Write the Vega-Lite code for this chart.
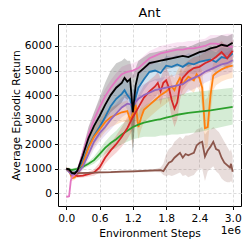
{
"$schema": "https://vega.github.io/schema/vega-lite/v6.json",
"width": 183, "height": 182,
"autosize": {"type": "none"},
"padding": {"left": 58, "top": 24, "right": 9, "bottom": 41},
"background": "white",
"title": {"text": "Ant", "font": "DejaVu Sans", "fontSize": 12.8, "fontWeight": "normal", "color": "black", "offset": 4},
"config": {
  "view": {"stroke": "black", "strokeWidth": 1},
  "axis": {"labelFont": "DejaVu Sans", "titleFont": "DejaVu Sans", "labelFontSize": 10.7, "titleFontSize": 10.7, "titleFontWeight": "normal", "labelColor": "black", "titleColor": "black", "tickColor": "black", "tickSize": 3.5, "domain": false, "grid": true, "gridColor": "#dcdcdc", "gridDash": [3, 2], "labelPadding": 3, "titlePadding": 3, "tickCount": 12, "labelOverlap": false, "labelFlush": false}
},
"datasets": {"d": [
{"s":"s1","x":0.0,"y":1000,"lo":950,"hi":1050},
{"s":"s1","x":0.1,"y":800,"lo":700,"hi":900},
{"s":"s1","x":0.2,"y":900,"lo":750,"hi":1050},
{"s":"s1","x":0.3,"y":1300,"lo":1100,"hi":1500},
{"s":"s1","x":0.4,"y":1900,"lo":1600,"hi":2200},
{"s":"s1","x":0.5,"y":2350,"lo":2000,"hi":2700},
{"s":"s1","x":0.6,"y":2700,"lo":2300,"hi":3100},
{"s":"s1","x":0.7,"y":3100,"lo":2600,"hi":3600},
{"s":"s1","x":0.8,"y":3550,"lo":3000,"hi":4100},
{"s":"s1","x":0.9,"y":3850,"lo":3300,"hi":4400},
{"s":"s1","x":1.0,"y":4050,"lo":3500,"hi":4600},
{"s":"s1","x":1.05,"y":4200,"lo":3600,"hi":4700},
{"s":"s1","x":1.1,"y":4000,"lo":3400,"hi":4600},
{"s":"s1","x":1.15,"y":3850,"lo":3200,"hi":4500},
{"s":"s1","x":1.2,"y":3300,"lo":1600,"hi":4200},
{"s":"s1","x":1.25,"y":3900,"lo":3300,"hi":4500},
{"s":"s1","x":1.3,"y":4300,"lo":3800,"hi":4800},
{"s":"s1","x":1.4,"y":4650,"lo":4200,"hi":5100},
{"s":"s1","x":1.5,"y":4950,"lo":4500,"hi":5400},
{"s":"s1","x":1.6,"y":5000,"lo":4600,"hi":5400},
{"s":"s1","x":1.7,"y":4900,"lo":4500,"hi":5300},
{"s":"s1","x":1.8,"y":5200,"lo":4800,"hi":5600},
{"s":"s1","x":1.9,"y":5150,"lo":4750,"hi":5550},
{"s":"s1","x":2.0,"y":5250,"lo":4850,"hi":5650},
{"s":"s1","x":2.1,"y":5150,"lo":4750,"hi":5550},
{"s":"s1","x":2.2,"y":5300,"lo":4900,"hi":5700},
{"s":"s1","x":2.3,"y":5250,"lo":4850,"hi":5650},
{"s":"s1","x":2.4,"y":5350,"lo":4950,"hi":5750},
{"s":"s1","x":2.5,"y":5400,"lo":5000,"hi":5800},
{"s":"s1","x":2.6,"y":5450,"lo":5050,"hi":5850},
{"s":"s1","x":2.7,"y":5350,"lo":4950,"hi":5750},
{"s":"s1","x":2.8,"y":5550,"lo":5150,"hi":5950},
{"s":"s1","x":2.9,"y":5500,"lo":5100,"hi":5900},
{"s":"s1","x":3.0,"y":5700,"lo":5300,"hi":6100},
{"s":"s2","x":0.0,"y":1000,"lo":950,"hi":1050},
{"s":"s2","x":0.05,"y":950,"lo":850,"hi":1050},
{"s":"s2","x":0.1,"y":620,"lo":500,"hi":750},
{"s":"s2","x":0.15,"y":650,"lo":550,"hi":800},
{"s":"s2","x":0.2,"y":800,"lo":650,"hi":950},
{"s":"s2","x":0.3,"y":1200,"lo":1000,"hi":1450},
{"s":"s2","x":0.4,"y":1850,"lo":1500,"hi":2200},
{"s":"s2","x":0.5,"y":2300,"lo":1900,"hi":2700},
{"s":"s2","x":0.6,"y":2600,"lo":2200,"hi":3000},
{"s":"s2","x":0.7,"y":2900,"lo":2500,"hi":3300},
{"s":"s2","x":0.8,"y":3100,"lo":2700,"hi":3500},
{"s":"s2","x":0.9,"y":3200,"lo":2800,"hi":3600},
{"s":"s2","x":1.0,"y":3300,"lo":2900,"hi":3700},
{"s":"s2","x":1.1,"y":3350,"lo":2900,"hi":3800},
{"s":"s2","x":1.15,"y":3000,"lo":2500,"hi":3500},
{"s":"s2","x":1.2,"y":3250,"lo":1800,"hi":3700},
{"s":"s2","x":1.25,"y":3600,"lo":3100,"hi":4000},
{"s":"s2","x":1.3,"y":2700,"lo":2200,"hi":3200},
{"s":"s2","x":1.35,"y":3100,"lo":2600,"hi":3600},
{"s":"s2","x":1.4,"y":3400,"lo":2900,"hi":3900},
{"s":"s2","x":1.5,"y":3600,"lo":3100,"hi":4100},
{"s":"s2","x":1.6,"y":3800,"lo":3300,"hi":4300},
{"s":"s2","x":1.7,"y":4000,"lo":3500,"hi":4500},
{"s":"s2","x":1.8,"y":4150,"lo":3650,"hi":4650},
{"s":"s2","x":1.9,"y":4350,"lo":3850,"hi":4850},
{"s":"s2","x":1.95,"y":4200,"lo":3700,"hi":4700},
{"s":"s2","x":2.0,"y":4500,"lo":4000,"hi":5000},
{"s":"s2","x":2.05,"y":4700,"lo":4200,"hi":5200},
{"s":"s2","x":2.1,"y":4450,"lo":3950,"hi":4950},
{"s":"s2","x":2.2,"y":4750,"lo":4250,"hi":5250},
{"s":"s2","x":2.3,"y":4600,"lo":4100,"hi":5100},
{"s":"s2","x":2.35,"y":4850,"lo":4350,"hi":5350},
{"s":"s2","x":2.4,"y":4700,"lo":4200,"hi":5200},
{"s":"s2","x":2.45,"y":4300,"lo":3500,"hi":5000},
{"s":"s2","x":2.5,"y":2650,"lo":1800,"hi":3800},
{"s":"s2","x":2.55,"y":2700,"lo":1900,"hi":3900},
{"s":"s2","x":2.6,"y":4000,"lo":3200,"hi":4700},
{"s":"s2","x":2.65,"y":4800,"lo":4200,"hi":5300},
{"s":"s2","x":2.7,"y":4900,"lo":4400,"hi":5400},
{"s":"s2","x":2.8,"y":5050,"lo":4550,"hi":5550},
{"s":"s2","x":2.9,"y":5150,"lo":4650,"hi":5650},
{"s":"s2","x":3.0,"y":5200,"lo":4700,"hi":5700},
{"s":"s3","x":0.0,"y":1000,"lo":970,"hi":1030},
{"s":"s3","x":0.1,"y":950,"lo":900,"hi":1000},
{"s":"s3","x":0.2,"y":1000,"lo":930,"hi":1070},
{"s":"s3","x":0.3,"y":1080,"lo":1000,"hi":1160},
{"s":"s3","x":0.4,"y":1200,"lo":1100,"hi":1300},
{"s":"s3","x":0.5,"y":1350,"lo":1200,"hi":1500},
{"s":"s3","x":0.6,"y":1600,"lo":1400,"hi":1800},
{"s":"s3","x":0.7,"y":1850,"lo":1600,"hi":2100},
{"s":"s3","x":0.8,"y":2050,"lo":1750,"hi":2350},
{"s":"s3","x":0.9,"y":2200,"lo":1850,"hi":2550},
{"s":"s3","x":1.0,"y":2400,"lo":2000,"hi":2800},
{"s":"s3","x":1.1,"y":2550,"lo":2100,"hi":3000},
{"s":"s3","x":1.2,"y":2700,"lo":2200,"hi":3200},
{"s":"s3","x":1.3,"y":2800,"lo":2250,"hi":3400},
{"s":"s3","x":1.4,"y":2880,"lo":2300,"hi":3550},
{"s":"s3","x":1.5,"y":2930,"lo":2300,"hi":3700},
{"s":"s3","x":1.6,"y":2980,"lo":2300,"hi":3800},
{"s":"s3","x":1.7,"y":3020,"lo":2350,"hi":3850},
{"s":"s3","x":1.8,"y":3080,"lo":2350,"hi":3900},
{"s":"s3","x":1.9,"y":3130,"lo":2400,"hi":3950},
{"s":"s3","x":2.0,"y":3200,"lo":2400,"hi":4000},
{"s":"s3","x":2.2,"y":3280,"lo":2450,"hi":4100},
{"s":"s3","x":2.4,"y":3330,"lo":2500,"hi":4150},
{"s":"s3","x":2.6,"y":3380,"lo":2600,"hi":4200},
{"s":"s3","x":2.8,"y":3450,"lo":2700,"hi":4250},
{"s":"s3","x":3.0,"y":3520,"lo":2800,"hi":4300},
{"s":"s4","x":0.0,"y":1000,"lo":950,"hi":1050},
{"s":"s4","x":0.1,"y":800,"lo":700,"hi":900},
{"s":"s4","x":0.2,"y":700,"lo":620,"hi":780},
{"s":"s4","x":0.3,"y":720,"lo":640,"hi":800},
{"s":"s4","x":0.4,"y":780,"lo":680,"hi":880},
{"s":"s4","x":0.5,"y":850,"lo":720,"hi":980},
{"s":"s4","x":0.6,"y":1050,"lo":850,"hi":1250},
{"s":"s4","x":0.7,"y":1450,"lo":1200,"hi":1700},
{"s":"s4","x":0.8,"y":1750,"lo":1450,"hi":2050},
{"s":"s4","x":0.9,"y":2000,"lo":1650,"hi":2350},
{"s":"s4","x":1.0,"y":2300,"lo":1900,"hi":2700},
{"s":"s4","x":1.1,"y":2650,"lo":2200,"hi":3100},
{"s":"s4","x":1.2,"y":3100,"lo":2600,"hi":3600},
{"s":"s4","x":1.3,"y":3500,"lo":3000,"hi":4000},
{"s":"s4","x":1.4,"y":3900,"lo":3400,"hi":4400},
{"s":"s4","x":1.5,"y":4150,"lo":3700,"hi":4600},
{"s":"s4","x":1.6,"y":4350,"lo":3900,"hi":4800},
{"s":"s4","x":1.65,"y":4500,"lo":4050,"hi":4950},
{"s":"s4","x":1.7,"y":4150,"lo":3600,"hi":4700},
{"s":"s4","x":1.75,"y":4500,"lo":4000,"hi":5000},
{"s":"s4","x":1.8,"y":4600,"lo":4100,"hi":5100},
{"s":"s4","x":1.85,"y":4300,"lo":3700,"hi":4900},
{"s":"s4","x":1.9,"y":3800,"lo":3100,"hi":4500},
{"s":"s4","x":1.95,"y":3450,"lo":2700,"hi":4200},
{"s":"s4","x":2.0,"y":3700,"lo":3000,"hi":4400},
{"s":"s4","x":2.05,"y":4400,"lo":3800,"hi":5000},
{"s":"s4","x":2.1,"y":4700,"lo":4200,"hi":5200},
{"s":"s4","x":2.2,"y":4950,"lo":4500,"hi":5400},
{"s":"s4","x":2.3,"y":5100,"lo":4650,"hi":5550},
{"s":"s4","x":2.4,"y":5150,"lo":4700,"hi":5600},
{"s":"s4","x":2.5,"y":5300,"lo":4850,"hi":5750},
{"s":"s4","x":2.6,"y":5400,"lo":4950,"hi":5850},
{"s":"s4","x":2.7,"y":5550,"lo":5100,"hi":6000},
{"s":"s4","x":2.8,"y":5750,"lo":5300,"hi":6200},
{"s":"s4","x":2.9,"y":5500,"lo":5050,"hi":5950},
{"s":"s4","x":3.0,"y":5800,"lo":5350,"hi":6250},
{"s":"s5","x":0.0,"y":1000,"lo":950,"hi":1050},
{"s":"s5","x":0.1,"y":750,"lo":650,"hi":850},
{"s":"s5","x":0.2,"y":800,"lo":700,"hi":900},
{"s":"s5","x":0.3,"y":1100,"lo":950,"hi":1250},
{"s":"s5","x":0.4,"y":1600,"lo":1350,"hi":1850},
{"s":"s5","x":0.5,"y":2100,"lo":1800,"hi":2400},
{"s":"s5","x":0.6,"y":2450,"lo":2100,"hi":2800},
{"s":"s5","x":0.7,"y":2700,"lo":2350,"hi":3050},
{"s":"s5","x":0.8,"y":3000,"lo":2600,"hi":3400},
{"s":"s5","x":0.9,"y":3250,"lo":2850,"hi":3650},
{"s":"s5","x":1.0,"y":3500,"lo":3100,"hi":3900},
{"s":"s5","x":1.1,"y":3650,"lo":3250,"hi":4050},
{"s":"s5","x":1.2,"y":3600,"lo":3100,"hi":4100},
{"s":"s5","x":1.3,"y":3850,"lo":3400,"hi":4300},
{"s":"s5","x":1.4,"y":4000,"lo":3550,"hi":4450},
{"s":"s5","x":1.5,"y":4100,"lo":3650,"hi":4550},
{"s":"s5","x":1.6,"y":4200,"lo":3750,"hi":4650},
{"s":"s5","x":1.7,"y":4250,"lo":3800,"hi":4700},
{"s":"s5","x":1.8,"y":4300,"lo":3850,"hi":4750},
{"s":"s5","x":1.9,"y":4350,"lo":3900,"hi":4800},
{"s":"s5","x":2.0,"y":4400,"lo":3950,"hi":4850},
{"s":"s5","x":2.1,"y":4450,"lo":4000,"hi":4900},
{"s":"s5","x":2.2,"y":4600,"lo":4150,"hi":5050},
{"s":"s5","x":2.3,"y":4700,"lo":4250,"hi":5150},
{"s":"s5","x":2.4,"y":4800,"lo":4350,"hi":5250},
{"s":"s5","x":2.5,"y":4950,"lo":4500,"hi":5400},
{"s":"s5","x":2.6,"y":5050,"lo":4600,"hi":5500},
{"s":"s5","x":2.7,"y":5150,"lo":4700,"hi":5600},
{"s":"s5","x":2.8,"y":5250,"lo":4800,"hi":5700},
{"s":"s5","x":2.9,"y":5300,"lo":4850,"hi":5750},
{"s":"s5","x":3.0,"y":5420,"lo":4950,"hi":5900},
{"s":"s6","x":0.0,"y":1000,"lo":970,"hi":1030},
{"s":"s6","x":0.1,"y":850,"lo":800,"hi":900},
{"s":"s6","x":0.2,"y":820,"lo":780,"hi":860},
{"s":"s6","x":0.4,"y":830,"lo":790,"hi":870},
{"s":"s6","x":0.6,"y":850,"lo":810,"hi":890},
{"s":"s6","x":0.8,"y":860,"lo":820,"hi":900},
{"s":"s6","x":1.0,"y":880,"lo":840,"hi":920},
{"s":"s6","x":1.2,"y":890,"lo":850,"hi":930},
{"s":"s6","x":1.4,"y":910,"lo":860,"hi":960},
{"s":"s6","x":1.6,"y":930,"lo":870,"hi":990},
{"s":"s6","x":1.7,"y":940,"lo":860,"hi":1050},
{"s":"s6","x":1.75,"y":900,"lo":750,"hi":1200},
{"s":"s6","x":1.8,"y":1080,"lo":700,"hi":1600},
{"s":"s6","x":1.85,"y":1250,"lo":750,"hi":1800},
{"s":"s6","x":1.9,"y":1300,"lo":700,"hi":1900},
{"s":"s6","x":1.95,"y":1450,"lo":750,"hi":2100},
{"s":"s6","x":2.0,"y":1550,"lo":800,"hi":2200},
{"s":"s6","x":2.05,"y":1650,"lo":850,"hi":2300},
{"s":"s6","x":2.1,"y":1450,"lo":700,"hi":2200},
{"s":"s6","x":2.15,"y":1600,"lo":750,"hi":2350},
{"s":"s6","x":2.2,"y":1550,"lo":650,"hi":2350},
{"s":"s6","x":2.25,"y":1600,"lo":700,"hi":2400},
{"s":"s6","x":2.3,"y":1650,"lo":750,"hi":2450},
{"s":"s6","x":2.35,"y":1950,"lo":900,"hi":2600},
{"s":"s6","x":2.4,"y":2050,"lo":1000,"hi":2650},
{"s":"s6","x":2.45,"y":2100,"lo":1000,"hi":2700},
{"s":"s6","x":2.5,"y":1500,"lo":500,"hi":2400},
{"s":"s6","x":2.55,"y":1750,"lo":900,"hi":2550},
{"s":"s6","x":2.6,"y":1900,"lo":1000,"hi":2600},
{"s":"s6","x":2.65,"y":2100,"lo":1100,"hi":2700},
{"s":"s6","x":2.7,"y":1800,"lo":900,"hi":2600},
{"s":"s6","x":2.75,"y":1750,"lo":800,"hi":2500},
{"s":"s6","x":2.8,"y":1450,"lo":600,"hi":2300},
{"s":"s6","x":2.85,"y":1250,"lo":500,"hi":2100},
{"s":"s6","x":2.9,"y":1150,"lo":450,"hi":1900},
{"s":"s6","x":2.95,"y":1050,"lo":450,"hi":1700},
{"s":"s6","x":2.97,"y":1200,"lo":500,"hi":1800},
{"s":"s6","x":3.0,"y":880,"lo":400,"hi":1500},
{"s":"s7","x":0.0,"y":-150,"lo":-200,"hi":-100},
{"s":"s7","x":0.05,"y":-120,"lo":-180,"hi":-60},
{"s":"s7","x":0.08,"y":500,"lo":400,"hi":600},
{"s":"s7","x":0.1,"y":650,"lo":550,"hi":750},
{"s":"s7","x":0.15,"y":750,"lo":650,"hi":850},
{"s":"s7","x":0.2,"y":900,"lo":800,"hi":1000},
{"s":"s7","x":0.3,"y":1650,"lo":1400,"hi":1900},
{"s":"s7","x":0.4,"y":2400,"lo":2100,"hi":2700},
{"s":"s7","x":0.5,"y":3000,"lo":2700,"hi":3300},
{"s":"s7","x":0.6,"y":3500,"lo":3200,"hi":3800},
{"s":"s7","x":0.7,"y":3950,"lo":3650,"hi":4250},
{"s":"s7","x":0.8,"y":4300,"lo":4000,"hi":4600},
{"s":"s7","x":0.9,"y":4600,"lo":4300,"hi":4900},
{"s":"s7","x":1.0,"y":4850,"lo":4550,"hi":5150},
{"s":"s7","x":1.1,"y":4950,"lo":4650,"hi":5250},
{"s":"s7","x":1.2,"y":5000,"lo":4700,"hi":5300},
{"s":"s7","x":1.3,"y":5100,"lo":4800,"hi":5400},
{"s":"s7","x":1.4,"y":5300,"lo":5000,"hi":5600},
{"s":"s7","x":1.5,"y":5500,"lo":5200,"hi":5800},
{"s":"s7","x":1.6,"y":5600,"lo":5300,"hi":5900},
{"s":"s7","x":1.7,"y":5700,"lo":5400,"hi":6000},
{"s":"s7","x":1.8,"y":5750,"lo":5450,"hi":6050},
{"s":"s7","x":1.9,"y":5800,"lo":5500,"hi":6100},
{"s":"s7","x":2.0,"y":5850,"lo":5550,"hi":6150},
{"s":"s7","x":2.1,"y":5850,"lo":5550,"hi":6150},
{"s":"s7","x":2.2,"y":5900,"lo":5600,"hi":6200},
{"s":"s7","x":2.3,"y":5900,"lo":5600,"hi":6200},
{"s":"s7","x":2.4,"y":5950,"lo":5650,"hi":6250},
{"s":"s7","x":2.5,"y":6000,"lo":5700,"hi":6300},
{"s":"s7","x":2.6,"y":6100,"lo":5800,"hi":6450},
{"s":"s7","x":2.7,"y":6100,"lo":5800,"hi":6450},
{"s":"s7","x":2.8,"y":6050,"lo":5700,"hi":6450},
{"s":"s7","x":2.9,"y":6000,"lo":5600,"hi":6500},
{"s":"s7","x":3.0,"y":5950,"lo":5500,"hi":6500},
{"s":"s8","x":0.0,"y":1000,"lo":950,"hi":1050},
{"s":"s8","x":0.05,"y":980,"lo":930,"hi":1030},
{"s":"s8","x":0.1,"y":830,"lo":760,"hi":900},
{"s":"s8","x":0.15,"y":800,"lo":730,"hi":870},
{"s":"s8","x":0.2,"y":920,"lo":820,"hi":1020},
{"s":"s8","x":0.3,"y":1550,"lo":1300,"hi":1800},
{"s":"s8","x":0.4,"y":2250,"lo":1900,"hi":2700},
{"s":"s8","x":0.5,"y":2750,"lo":2300,"hi":3300},
{"s":"s8","x":0.6,"y":3150,"lo":2600,"hi":3900},
{"s":"s8","x":0.7,"y":3600,"lo":3000,"hi":4500},
{"s":"s8","x":0.8,"y":4000,"lo":3300,"hi":5000},
{"s":"s8","x":0.9,"y":4300,"lo":3500,"hi":5300},
{"s":"s8","x":1.0,"y":4500,"lo":3700,"hi":5400},
{"s":"s8","x":1.05,"y":4700,"lo":3900,"hi":5500},
{"s":"s8","x":1.1,"y":4550,"lo":3800,"hi":5400},
{"s":"s8","x":1.15,"y":4650,"lo":3900,"hi":5400},
{"s":"s8","x":1.2,"y":3300,"lo":1500,"hi":4800},
{"s":"s8","x":1.25,"y":4400,"lo":3700,"hi":5100},
{"s":"s8","x":1.3,"y":4900,"lo":4400,"hi":5400},
{"s":"s8","x":1.4,"y":5100,"lo":4650,"hi":5550},
{"s":"s8","x":1.5,"y":5300,"lo":4900,"hi":5700},
{"s":"s8","x":1.6,"y":5350,"lo":4950,"hi":5750},
{"s":"s8","x":1.7,"y":5400,"lo":5000,"hi":5800},
{"s":"s8","x":1.8,"y":5450,"lo":5050,"hi":5850},
{"s":"s8","x":1.9,"y":5500,"lo":5100,"hi":5900},
{"s":"s8","x":2.0,"y":5550,"lo":5150,"hi":5950},
{"s":"s8","x":2.1,"y":5600,"lo":5200,"hi":6000},
{"s":"s8","x":2.2,"y":5550,"lo":5150,"hi":5950},
{"s":"s8","x":2.3,"y":5650,"lo":5250,"hi":6050},
{"s":"s8","x":2.4,"y":5750,"lo":5350,"hi":6150},
{"s":"s8","x":2.5,"y":5800,"lo":5400,"hi":6200},
{"s":"s8","x":2.6,"y":5900,"lo":5500,"hi":6300},
{"s":"s8","x":2.7,"y":5950,"lo":5550,"hi":6350},
{"s":"s8","x":2.8,"y":6050,"lo":5650,"hi":6450},
{"s":"s8","x":2.9,"y":6000,"lo":5600,"hi":6400},
{"s":"s8","x":3.0,"y":6130,"lo":5750,"hi":6500}
]},
"layer": [
  {
    "data": {"name": "d"},
    "mark": {"type": "area", "opacity": 0.2},
    "encoding": {
      "x": {"field": "x", "type": "quantitative", "scale": {"domain": [-0.15, 3.15], "nice": false, "zero": false},
            "axis": {"values": [0, 0.6, 1.2, 1.8, 2.4, 3.0], "tickCount": 12, "format": ".1f", "title": "Environment Steps", "labelPadding": 4, "titlePadding": 5}},
      "y": {"field": "lo", "type": "quantitative", "stack": null, "scale": {"domain": [-517, 6896], "nice": false, "zero": false},
            "axis": {"values": [0, 1000, 2000, 3000, 4000, 5000, 6000], "tickCount": 12, "format": "d", "title": "Average Episodic Return"}},
      "y2": {"field": "hi"},
      "color": {"field": "s", "type": "nominal", "legend": null,
                "scale": {"domain": ["s1","s2","s3","s4","s5","s6","s7","s8"], "range": ["#1f77b4","#ff7f0e","#2ca02c","#d62728","#9467bd","#8c564b","#e377c2","#000000"]}}
    }
  },
  {
    "data": {"name": "d"},
    "mark": {"type": "line", "strokeWidth": 1.8},
    "encoding": {
      "x": {"field": "x", "type": "quantitative"},
      "y": {"field": "y", "type": "quantitative"},
      "color": {"field": "s", "type": "nominal", "legend": null}
    }
  },
  {
    "data": {"values": [{"label": "1e6"}]},
    "mark": {"type": "text", "align": "right", "baseline": "middle", "dy": 25, "font": "DejaVu Sans", "fontSize": 10.7, "color": "black"},
    "encoding": {"x": {"datum": 3.15}, "y": {"datum": -517}, "text": {"field": "label"}}
  }
]
}
